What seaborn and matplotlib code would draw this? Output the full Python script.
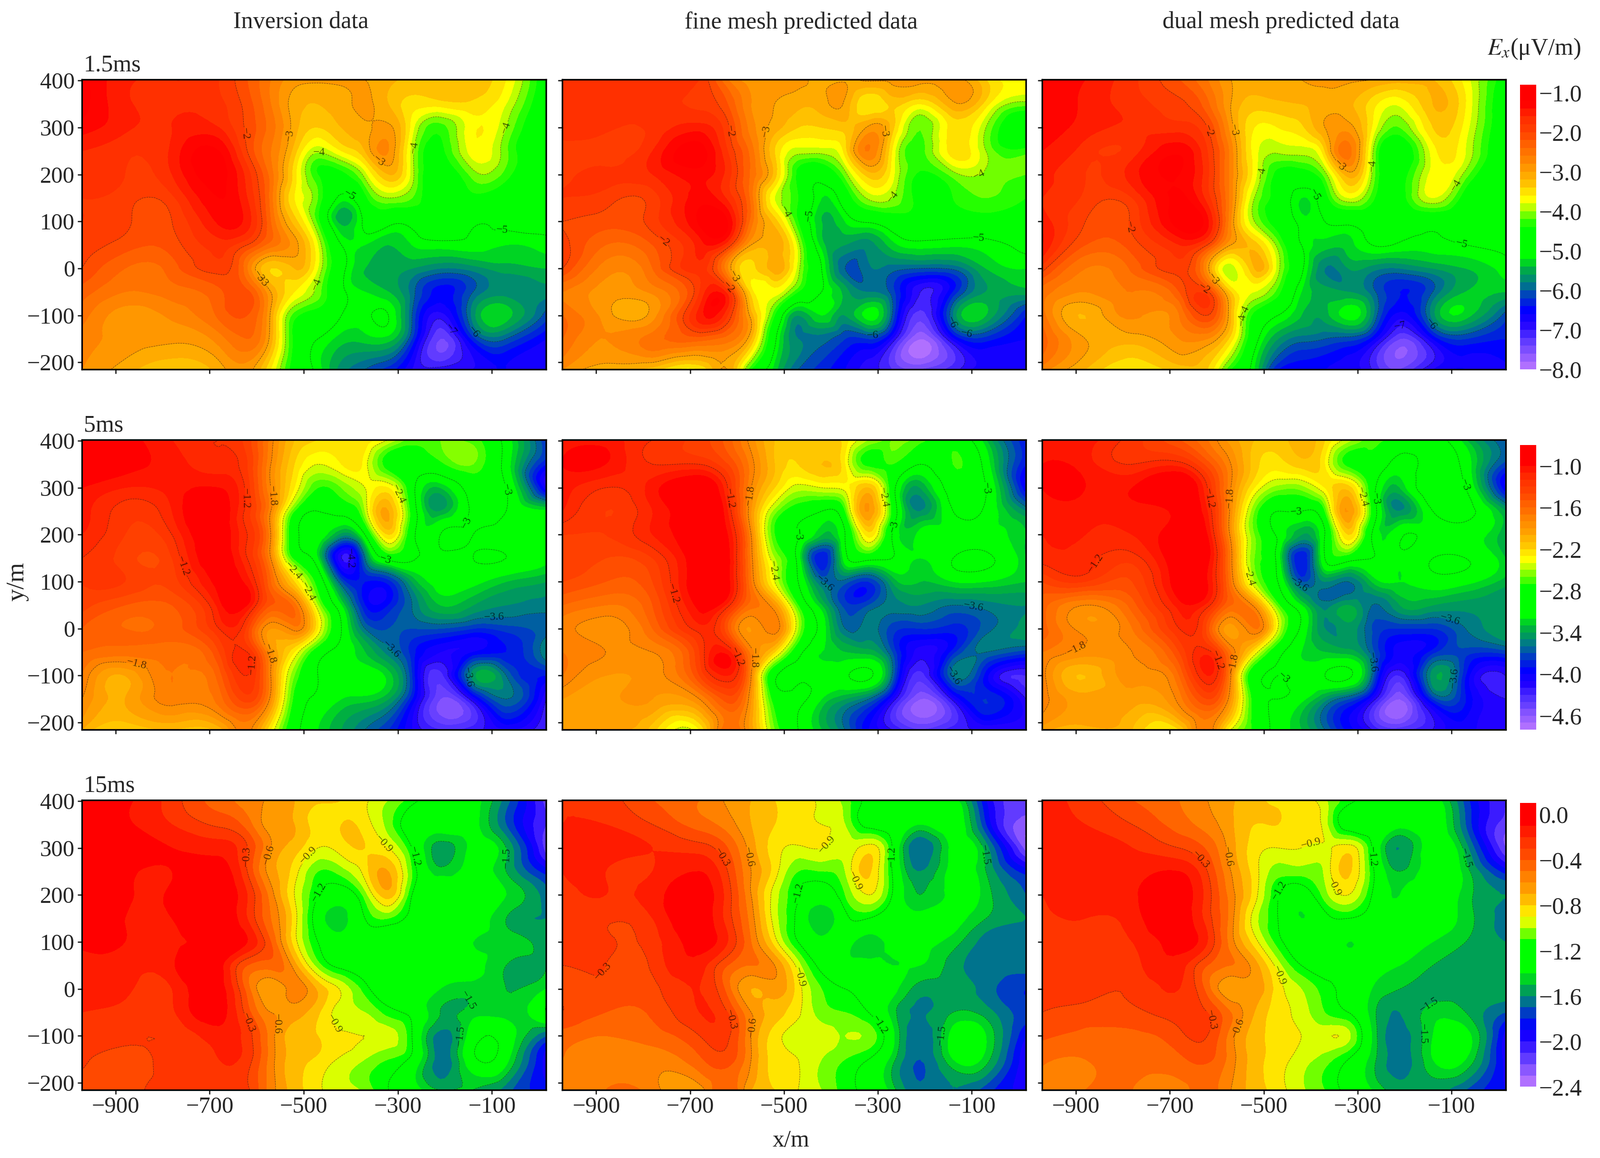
"""Campos Ex: inversion, malla fina y malla dual para tres tiempos."""

import matplotlib
matplotlib.use("Agg")
import matplotlib.pyplot as plt
import matplotlib.tri as mtri
import numpy as np
import seaborn as sns
from matplotlib.colors import ListedColormap

x_nodes = [-972, -880, -780, -680, -620, -570, -520, -470, -420, -370, -320, -270, -210, -140, -70, 15]
y_nodes = [402, 350, 300, 250, 200, 150, 100, 50, 0, -50, -100, -150, -215]

col_titles = ["Inversion data", "fine mesh predicted data", "dual mesh predicted data"]
row_titles = ["1.5ms", "5ms", "15ms"]
x_ticks = [-900, -700, -500, -300, -100]
y_ticks = [400, 300, 200, 100, 0, -100, -200]

levels_1 = [-8.0 + 0.2 * i for i in range(37)]
levels_2 = [-4.8 + 0.1 * i for i in range(42)]
levels_3 = [-2.4 + 0.1 * i for i in range(26)]
lines_1 = [-7, -6, -5, -4, -3, -2]
lines_2 = [-4.2, -3.6, -3, -2.4, -1.8, -1.2]
lines_3 = [-1.5, -1.2, -0.9, -0.6, -0.3]
cbar_ticks_1 = [-1.0, -2.0, -3.0, -4.0, -5.0, -6.0, -7.0, -8.0]
cbar_ticks_2 = [-1.0, -1.6, -2.2, -2.8, -3.4, -4.0, -4.6]
cbar_ticks_3 = [0.0, -0.4, -0.8, -1.2, -1.6, -2.0, -2.4]

anchors = ["#ff0000", "#ff0000", "#ff2a00", "#ff4000", "#ff6000", "#ff8000", "#ffa000", "#ffc800",
           "#ffff00", "#88ff00", "#00ff00", "#00ff00", "#00ff00", "#00b040", "#008080", "#0040c0",
           "#0000ff", "#2000ff", "#5030ff", "#8050ff", "#b070ff"]

a1 = [
    [-1.1, -1.55, -1.6, -1.8, -2.2, -2.6, -2.9, -2.95, -2.95, -3.0, -3.15, -3.25, -3.3, -3.3, -3.6, -4.7],
    [-1.1, -1.55, -1.65, -1.75, -2.1, -2.6, -3.1, -3.2, -3.1, -2.95, -3.2, -3.5, -3.5, -3.45, -3.8, -4.8],
    [-1.3, -1.55, -1.6, -1.6, -2.05, -2.5, -3.1, -3.4, -3.2, -3.05, -2.95, -3.7, -4.3, -3.65, -4.0, -4.9],
    [-1.6, -1.75, -1.55, -1.2, -2.0, -2.6, -3.3, -3.95, -3.6, -3.2, -2.8, -3.9, -4.5, -3.7, -4.15, -4.8],
    [-1.75, -1.8, -1.6, -1.1, -1.7, -2.5, -3.5, -4.4, -4.5, -3.9, -3.2, -3.9, -4.7, -4.1, -4.3, -4.7],
    [-1.8, -1.9, -1.85, -1.2, -1.6, -2.5, -3.6, -4.2, -5.1, -4.5, -4.0, -4.2, -4.7, -4.5, -4.7, -4.8],
    [-1.8, -1.95, -2.0, -1.35, -1.5, -2.4, -3.3, -4.3, -5.5, -4.9, -4.85, -4.85, -4.7, -4.95, -4.9, -4.9],
    [-1.9, -2.1, -2.1, -1.7, -2.0, -2.5, -2.9, -3.8, -5.0, -5.2, -5.4, -5.2, -5.1, -5.1, -5.2, -5.1],
    [-2.0, -2.4, -2.3, -1.9, -2.6, -3.4, -3.2, -3.8, -4.85, -5.4, -5.5, -5.6, -5.8, -5.7, -5.5, -5.4],
    [-2.3, -2.6, -2.5, -2.25, -2.15, -3.0, -3.6, -4.1, -4.9, -5.2, -5.4, -5.9, -6.5, -6.0, -5.7, -5.7],
    [-2.5, -2.9, -2.75, -2.35, -2.2, -3.05, -4.3, -4.6, -5.0, -5.1, -5.0, -6.0, -6.9, -5.7, -5.3, -6.1],
    [-2.7, -2.9, -2.95, -2.7, -2.4, -3.1, -4.5, -5.0, -5.3, -5.3, -5.3, -6.2, -7.4, -6.3, -6.0, -6.6],
    [-2.8, -3.1, -3.4, -3.1, -2.9, -3.6, -4.6, -5.1, -5.7, -6.0, -6.3, -6.8, -6.9, -6.8, -6.6, -6.7],
]
b1 = [
    [-1.7, -1.7, -1.75, -1.8, -2.6, -2.9, -2.9, -2.9, -3.1, -3.05, -2.95, -2.95, -2.9, -2.95, -3.4, -3.7],
    [-1.7, -1.75, -1.75, -1.85, -2.2, -2.8, -3.0, -3.15, -3.1, -3.05, -3.6, -3.35, -3.6, -3.05, -3.5, -4.1],
    [-1.7, -1.75, -1.75, -1.5, -1.95, -2.7, -3.1, -3.4, -3.4, -3.3, -2.95, -3.3, -4.2, -3.5, -4.0, -4.9],
    [-1.9, -1.9, -1.6, -1.1, -1.8, -2.5, -3.4, -3.9, -3.9, -3.5, -2.6, -3.6, -4.3, -3.5, -4.0, -4.3],
    [-1.9, -1.75, -1.6, -1.3, -1.7, -2.45, -3.3, -4.5, -4.8, -4.1, -3.3, -3.7, -4.45, -4.1, -4.05, -4.2],
    [-1.8, -1.9, -1.9, -1.3, -1.65, -2.5, -3.8, -4.4, -5.2, -4.7, -3.95, -4.0, -4.5, -4.4, -4.2, -4.4],
    [-2.0, -2.1, -1.9, -1.15, -1.2, -2.5, -3.3, -4.4, -5.4, -5.2, -4.95, -4.7, -4.6, -4.65, -4.6, -4.7],
    [-1.9, -2.4, -2.2, -1.5, -1.8, -3.0, -3.1, -3.9, -5.3, -5.6, -5.7, -5.3, -5.1, -5.15, -5.1, -4.9],
    [-2.0, -2.7, -2.4, -1.7, -2.8, -3.5, -3.1, -3.9, -5.0, -6.0, -5.85, -5.9, -6.0, -5.95, -5.4, -5.2],
    [-2.6, -2.9, -2.75, -1.8, -1.7, -3.5, -3.7, -4.4, -5.0, -5.5, -5.8, -6.1, -7.0, -6.4, -5.6, -5.5],
    [-2.4, -2.9, -2.9, -1.5, -1.8, -3.1, -4.4, -5.6, -5.2, -5.6, -5.1, -6.0, -7.3, -5.8, -5.4, -6.4],
    [-2.4, -2.8, -2.5, -2.3, -2.5, -3.2, -4.9, -5.8, -5.9, -6.2, -6.2, -6.8, -7.8, -6.7, -6.3, -6.6],
    [-2.8, -3.1, -3.3, -3.6, -3.0, -4.4, -5.3, -6.0, -6.3, -6.6, -6.9, -7.2, -7.4, -7.1, -6.7, -6.6],
]
c1 = [
    [-1.2, -1.4, -1.75, -2.2, -2.6, -3.0, -3.1, -3.1, -3.0, -2.9, -2.95, -3.0, -3.1, -3.2, -3.7, -4.6],
    [-1.2, -1.45, -1.7, -1.95, -2.35, -3.0, -3.3, -3.25, -3.2, -3.1, -3.15, -3.5, -3.75, -3.2, -3.6, -4.8],
    [-1.25, -1.5, -1.65, -1.7, -2.0, -2.9, -3.6, -3.6, -3.45, -3.0, -2.9, -3.6, -4.2, -3.4, -3.7, -4.8],
    [-1.4, -1.7, -1.7, -1.25, -1.8, -2.7, -3.7, -3.95, -3.9, -3.4, -2.5, -3.9, -4.8, -3.7, -3.8, -4.9],
    [-1.5, -1.8, -1.5, -1.2, -1.75, -2.7, -3.7, -4.5, -4.6, -4.1, -3.1, -4.0, -4.6, -3.7, -4.1, -4.9],
    [-1.6, -1.85, -1.8, -1.15, -1.7, -2.7, -4.0, -4.6, -5.2, -4.6, -3.8, -4.3, -4.6, -3.8, -4.6, -4.9],
    [-1.5, -2.0, -1.95, -1.05, -1.35, -2.8, -4.0, -4.6, -5.1, -5.0, -4.9, -4.8, -4.85, -4.8, -4.85, -4.9],
    [-1.4, -2.2, -2.1, -1.6, -2.0, -3.0, -3.3, -4.1, -5.0, -5.3, -5.3, -5.0, -5.05, -5.1, -5.0, -4.95],
    [-1.9, -2.6, -2.35, -1.9, -2.9, -3.9, -3.2, -3.9, -4.9, -5.8, -5.6, -5.7, -5.8, -5.6, -5.4, -5.1],
    [-2.5, -2.8, -2.6, -2.2, -1.95, -3.4, -3.8, -4.3, -5.2, -5.5, -5.6, -5.9, -6.4, -6.0, -5.4, -5.4],
    [-2.5, -3.2, -2.75, -2.6, -2.0, -3.2, -4.5, -5.0, -5.4, -5.5, -5.1, -5.7, -6.7, -5.7, -5.3, -6.1],
    [-2.3, -3.0, -3.1, -2.8, -2.8, -3.5, -4.8, -5.6, -5.9, -6.0, -6.1, -6.5, -7.4, -6.6, -6.2, -6.4],
    [-2.7, -3.2, -3.6, -3.3, -3.4, -4.4, -5.2, -6.4, -6.5, -6.6, -6.7, -7.0, -7.4, -6.8, -6.6, -6.6],
]
a2 = [
    [-0.85, -0.95, -1.1, -1.2, -1.35, -1.75, -2.1, -2.2, -2.3, -2.25, -2.4, -2.65, -2.6, -2.65, -3.1, -3.8],
    [-0.85, -0.95, -1.05, -1.15, -1.3, -1.8, -2.2, -2.4, -2.3, -2.35, -2.8, -2.9, -2.75, -2.6, -3.1, -3.9],
    [-1.0, -1.1, -1.05, -1.0, -1.25, -1.8, -2.3, -2.7, -2.6, -2.4, -2.3, -2.9, -3.3, -2.85, -3.0, -4.1],
    [-1.05, -1.25, -1.1, -0.9, -1.25, -1.8, -2.7, -3.0, -2.9, -2.5, -2.0, -2.8, -3.4, -2.95, -3.0, -3.15],
    [-1.1, -1.3, -1.2, -0.9, -1.2, -1.8, -2.9, -3.1, -3.45, -3.0, -2.2, -2.9, -3.0, -3.0, -3.1, -3.1],
    [-1.2, -1.35, -1.3, -0.9, -1.2, -1.8, -2.75, -3.2, -4.2, -3.6, -2.9, -2.95, -3.1, -3.0, -3.0, -3.15],
    [-1.3, -1.3, -1.35, -0.95, -1.05, -1.6, -2.2, -2.8, -3.7, -3.9, -3.85, -3.4, -3.15, -3.15, -3.3, -3.4],
    [-1.35, -1.5, -1.5, -1.05, -1.0, -1.5, -1.65, -2.5, -3.2, -3.9, -3.9, -3.6, -3.3, -3.4, -3.5, -3.55],
    [-1.5, -1.6, -1.55, -1.2, -1.35, -1.9, -1.75, -2.3, -3.0, -3.6, -3.7, -3.7, -3.7, -3.8, -3.75, -3.65],
    [-1.6, -1.65, -1.65, -1.4, -1.2, -1.85, -2.3, -2.85, -3.1, -3.3, -3.55, -3.85, -4.1, -4.0, -3.9, -3.5],
    [-1.7, -2.0, -1.7, -1.55, -1.2, -1.8, -2.6, -3.0, -3.1, -3.1, -3.25, -3.8, -4.35, -3.45, -3.6, -3.9],
    [-1.8, -2.0, -1.75, -1.65, -1.35, -1.85, -2.75, -3.05, -3.2, -3.25, -3.4, -3.9, -4.5, -4.1, -3.6, -4.2],
    [-2.0, -2.2, -2.1, -2.05, -1.75, -2.3, -2.9, -3.2, -3.4, -3.6, -3.8, -4.1, -4.3, -4.25, -4.1, -4.3],
]
b2 = [
    [-1.05, -1.05, -1.2, -1.35, -1.55, -1.85, -2.1, -2.1, -2.15, -2.25, -2.5, -2.6, -2.65, -2.8, -3.3, -3.9],
    [-1.0, -1.0, -1.2, -1.2, -1.4, -1.75, -2.1, -2.2, -2.1, -2.3, -2.75, -2.7, -3.0, -2.7, -3.1, -3.9],
    [-1.05, -1.2, -1.05, -0.85, -1.2, -1.8, -2.2, -2.45, -2.4, -2.35, -2.1, -2.85, -3.4, -2.85, -3.0, -4.0],
    [-1.1, -1.3, -1.1, -0.85, -1.1, -1.9, -2.55, -2.85, -3.0, -2.7, -1.9, -2.75, -3.5, -3.0, -3.05, -3.5],
    [-1.3, -1.3, -1.1, -0.85, -1.0, -1.8, -2.7, -3.0, -3.3, -3.0, -2.25, -3.0, -3.15, -3.15, -3.15, -3.3],
    [-1.3, -1.4, -1.3, -0.85, -0.95, -1.75, -2.5, -3.1, -3.9, -3.1, -2.9, -3.0, -3.2, -3.0, -2.95, -3.3],
    [-1.4, -1.5, -1.4, -0.85, -0.95, -1.7, -2.4, -3.0, -3.6, -3.65, -3.8, -3.4, -3.3, -3.2, -3.2, -3.3],
    [-1.6, -1.7, -1.5, -0.95, -1.15, -1.65, -1.9, -2.7, -3.3, -3.75, -3.7, -3.55, -3.5, -3.6, -3.55, -3.5],
    [-1.75, -1.85, -1.6, -1.15, -1.5, -1.9, -1.75, -2.5, -3.1, -3.6, -3.55, -3.75, -3.8, -3.85, -3.65, -3.45],
    [-1.7, -1.8, -1.8, -1.3, -1.05, -1.75, -2.2, -2.9, -3.2, -3.3, -3.35, -3.7, -4.15, -3.85, -3.6, -3.75],
    [-1.7, -1.9, -1.85, -1.4, -1.1, -1.8, -2.95, -3.05, -3.1, -3.05, -2.95, -3.6, -4.35, -3.6, -3.95, -4.3],
    [-1.9, -1.95, -1.9, -1.8, -1.45, -1.9, -2.8, -2.95, -3.2, -3.4, -3.6, -4.1, -4.6, -4.15, -3.8, -4.2],
    [-1.9, -2.0, -2.15, -2.3, -1.6, -1.95, -2.6, -3.0, -3.3, -3.6, -4.0, -4.2, -4.4, -4.25, -4.2, -4.2],
]
c2 = [
    [-1.0, -1.05, -1.25, -1.5, -1.7, -1.95, -2.1, -2.15, -2.05, -2.2, -2.45, -2.65, -2.8, -2.9, -3.3, -3.7],
    [-1.0, -1.05, -1.2, -1.15, -1.45, -1.8, -2.15, -2.25, -2.15, -2.3, -2.75, -2.8, -3.1, -2.85, -3.1, -3.75],
    [-1.0, -1.0, -1.0, -0.85, -1.2, -1.8, -2.3, -2.55, -2.55, -2.3, -2.15, -2.85, -3.3, -2.75, -3.0, -4.0],
    [-1.05, -1.05, -1.05, -0.95, -1.1, -1.85, -2.6, -3.0, -3.0, -2.7, -1.9, -2.75, -3.5, -3.0, -2.9, -3.4],
    [-1.1, -1.1, -1.1, -0.85, -1.0, -1.85, -2.6, -3.05, -3.4, -3.0, -2.2, -3.0, -3.05, -3.15, -3.15, -3.4],
    [-1.15, -1.15, -1.25, -0.85, -0.95, -1.75, -2.6, -3.1, -3.9, -3.0, -2.85, -3.0, -3.1, -3.0, -3.0, -3.3],
    [-1.4, -1.3, -1.4, -0.9, -1.0, -1.7, -2.5, -3.0, -3.7, -3.5, -3.6, -3.3, -3.2, -3.1, -3.15, -3.35],
    [-1.55, -1.8, -1.55, -1.05, -1.15, -1.6, -1.85, -2.65, -3.2, -3.55, -3.4, -3.6, -3.4, -3.4, -3.45, -3.5],
    [-1.55, -1.85, -1.7, -1.2, -1.45, -1.95, -1.7, -2.4, -3.05, -3.5, -3.45, -3.7, -3.8, -3.8, -3.6, -3.4],
    [-1.7, -1.85, -1.8, -1.4, -1.15, -1.7, -2.3, -2.9, -3.2, -3.3, -3.35, -3.65, -4.05, -3.85, -3.75, -3.75],
    [-1.75, -2.1, -1.85, -1.6, -1.1, -1.8, -2.9, -3.0, -3.1, -3.0, -2.95, -3.6, -4.3, -3.45, -3.9, -4.2],
    [-1.75, -1.95, -1.95, -1.75, -1.4, -1.9, -2.8, -3.0, -3.15, -3.45, -3.7, -4.1, -4.6, -3.8, -3.9, -4.2],
    [-1.95, -2.05, -2.1, -2.2, -1.7, -2.4, -2.75, -3.1, -3.3, -3.6, -3.95, -4.2, -4.35, -4.2, -4.05, -4.2],
]
a3 = [
    [-0.05, -0.08, -0.25, -0.45, -0.55, -0.62, -0.7, -0.78, -0.8, -0.88, -1.0, -1.15, -1.3, -1.35, -1.65, -2.15],
    [-0.03, -0.08, -0.2, -0.32, -0.45, -0.65, -0.7, -0.85, -0.8, -0.85, -1.05, -1.3, -1.3, -1.35, -1.7, -2.1],
    [-0.03, -0.05, -0.1, -0.14, -0.3, -0.6, -0.75, -0.9, -0.85, -0.8, -0.9, -1.2, -1.55, -1.35, -1.5, -2.15],
    [-0.05, -0.08, -0.1, -0.05, -0.3, -0.65, -0.85, -1.1, -1.05, -0.85, -0.7, -1.1, -1.45, -1.35, -1.5, -1.85],
    [-0.06, -0.09, -0.09, -0.02, -0.2, -0.55, -0.9, -1.2, -1.3, -1.05, -0.75, -1.2, -1.35, -1.35, -1.4, -1.65],
    [-0.08, -0.1, -0.1, -0.02, -0.2, -0.5, -0.85, -1.3, -1.45, -1.2, -1.1, -1.25, -1.3, -1.3, -1.5, -1.6],
    [-0.09, -0.1, -0.13, -0.02, -0.1, -0.4, -0.85, -1.2, -1.35, -1.3, -1.3, -1.3, -1.3, -1.4, -1.45, -1.55],
    [-0.12, -0.15, -0.12, -0.05, -0.4, -0.45, -0.65, -1.05, -1.25, -1.3, -1.35, -1.35, -1.35, -1.35, -1.5, -1.5],
    [-0.15, -0.17, -0.2, -0.05, -0.45, -0.68, -0.55, -0.72, -0.92, -1.15, -1.28, -1.3, -1.4, -1.45, -1.5, -1.4],
    [-0.2, -0.25, -0.22, -0.05, -0.35, -0.6, -0.65, -0.78, -0.95, -1.0, -1.15, -1.25, -1.5, -1.45, -1.45, -1.2],
    [-0.27, -0.28, -0.28, -0.15, -0.25, -0.55, -0.75, -0.8, -0.88, -0.9, -0.95, -1.2, -1.65, -1.3, -1.3, -1.7],
    [-0.28, -0.33, -0.27, -0.2, -0.25, -0.55, -0.75, -0.82, -0.92, -1.0, -1.1, -1.25, -1.65, -1.25, -1.35, -1.95],
    [-0.35, -0.33, -0.28, -0.27, -0.28, -0.55, -0.75, -0.88, -0.95, -1.03, -1.2, -1.3, -1.5, -1.5, -1.65, -1.85],
]
b3 = [
    [-0.2, -0.25, -0.4, -0.5, -0.62, -0.7, -0.8, -0.85, -0.92, -1.05, -1.25, -1.3, -1.3, -1.35, -1.9, -2.15],
    [-0.2, -0.2, -0.3, -0.45, -0.55, -0.7, -0.8, -0.85, -0.9, -1.0, -1.25, -1.25, -1.4, -1.3, -1.8, -2.25],
    [-0.2, -0.15, -0.2, -0.25, -0.4, -0.65, -0.85, -0.92, -0.9, -0.95, -0.85, -1.2, -1.7, -1.35, -1.55, -2.25],
    [-0.2, -0.2, -0.2, -0.1, -0.3, -0.6, -0.85, -1.1, -1.1, -1.0, -0.78, -1.2, -1.6, -1.35, -1.5, -1.85],
    [-0.25, -0.2, -0.15, -0.03, -0.25, -0.6, -0.95, -1.2, -1.3, -1.1, -0.9, -1.2, -1.5, -1.35, -1.45, -1.7],
    [-0.3, -0.28, -0.2, -0.03, -0.25, -0.55, -0.95, -1.25, -1.5, -1.25, -1.2, -1.3, -1.35, -1.35, -1.5, -1.6],
    [-0.25, -0.28, -0.25, -0.05, -0.2, -0.5, -0.85, -1.2, -1.35, -1.35, -1.45, -1.35, -1.35, -1.45, -1.65, -1.65],
    [-0.3, -0.3, -0.28, -0.15, -0.4, -0.5, -0.6, -0.95, -1.25, -1.35, -1.35, -1.4, -1.4, -1.55, -1.65, -1.65],
    [-0.35, -0.33, -0.33, -0.2, -0.45, -0.7, -0.65, -0.85, -1.1, -1.2, -1.25, -1.35, -1.55, -1.55, -1.65, -1.8],
    [-0.3, -0.4, -0.38, -0.2, -0.3, -0.6, -0.75, -0.88, -1.05, -1.1, -1.2, -1.45, -1.62, -1.5, -1.55, -1.75],
    [-0.45, -0.5, -0.45, -0.3, -0.28, -0.6, -0.85, -0.95, -0.95, -1.0, -1.03, -1.35, -1.68, -1.35, -1.4, -1.9],
    [-0.5, -0.55, -0.55, -0.42, -0.35, -0.6, -0.85, -0.9, -1.0, -1.1, -1.2, -1.45, -1.7, -1.4, -1.45, -2.0],
    [-0.5, -0.5, -0.55, -0.65, -0.4, -0.7, -0.8, -0.9, -1.0, -1.15, -1.25, -1.45, -1.68, -1.6, -1.75, -1.95],
]
c3 = [
    [-0.15, -0.25, -0.4, -0.5, -0.6, -0.68, -0.78, -0.82, -0.85, -0.98, -1.15, -1.25, -1.3, -1.35, -1.75, -2.1],
    [-0.15, -0.2, -0.3, -0.45, -0.55, -0.68, -0.8, -0.8, -0.85, -0.95, -1.3, -1.25, -1.35, -1.3, -1.7, -2.15],
    [-0.15, -0.15, -0.2, -0.3, -0.42, -0.65, -0.85, -0.9, -0.9, -0.92, -0.85, -1.2, -1.6, -1.3, -1.55, -2.2],
    [-0.15, -0.15, -0.15, -0.1, -0.3, -0.6, -0.85, -1.05, -1.05, -0.98, -0.78, -1.15, -1.5, -1.3, -1.45, -1.85],
    [-0.2, -0.15, -0.12, -0.03, -0.25, -0.55, -0.85, -1.2, -1.3, -1.05, -0.9, -1.2, -1.4, -1.3, -1.45, -1.6],
    [-0.22, -0.2, -0.15, -0.03, -0.25, -0.55, -0.95, -1.2, -1.4, -1.25, -1.2, -1.25, -1.3, -1.3, -1.45, -1.65],
    [-0.25, -0.22, -0.2, -0.05, -0.2, -0.55, -0.85, -1.15, -1.3, -1.3, -1.4, -1.3, -1.3, -1.4, -1.5, -1.6],
    [-0.25, -0.25, -0.25, -0.15, -0.4, -0.5, -0.65, -0.95, -1.2, -1.3, -1.3, -1.35, -1.4, -1.5, -1.55, -1.55],
    [-0.25, -0.25, -0.28, -0.2, -0.45, -0.68, -0.65, -0.85, -1.0, -1.15, -1.25, -1.4, -1.5, -1.55, -1.55, -1.55],
    [-0.3, -0.35, -0.33, -0.25, -0.3, -0.5, -0.7, -0.85, -0.95, -1.1, -1.2, -1.45, -1.6, -1.45, -1.5, -1.7],
    [-0.38, -0.42, -0.42, -0.33, -0.3, -0.55, -0.75, -0.85, -0.9, -0.93, -0.97, -1.4, -1.65, -1.4, -1.35, -1.95],
    [-0.48, -0.5, -0.45, -0.42, -0.38, -0.55, -0.75, -0.85, -0.95, -1.05, -1.2, -1.45, -1.65, -1.4, -1.4, -1.95],
    [-0.5, -0.5, -0.5, -0.55, -0.45, -0.6, -0.75, -0.85, -0.98, -1.1, -1.25, -1.4, -1.55, -1.55, -1.7, -1.9],
]

# donde van las etiquetas de las isolineas
spots_a1 = [(-611, 287), (-552, 287), (-467, 243), (-337, 232), (-252, 256), (-72, 300), (-402, 157), (-78, 87),
            (-630, -39), (-593, -17), (-483, -30), (-176, -122), (-128, -126)]
spots_b1 = [(-611, 293), (-546, 293), (-291, 291), (-85, 200), (-274, 157), (-498, 120), (-452, 113), (-748, 70),
            (-85, 70), (-600, -13), (-617, -39), (-313, -128), (-154, -120), (-109, -122)]
spots_c1 = [(-624, 291), (-556, 296), (-335, 222), (-239, 217), (-485, 200), (-400, 152), (-70, 165), (-822, 80),
            (-80, 46), (-600, -17), (-626, -41), (-556, -109), (-524, -100), (-211, -109), (-139, -115)]
spots_a2 = [(-617, 278), (-572, 282), (-291, 289), (-83, 293), (-167, 232), (-391, 150), (-326, 148), (-524, 122),
            (-474, 87), (-846, 106), (-96, 33), (-293, -28), (-617, -76), (-572, -54), (-863, -113), (-161, -106)]
spots_b2 = [(-609, 278), (-563, 282), (-287, 280), (-93, 297), (-246, 211), (-472, 200), (-417, 89), (-515, 124),
            (-789, 61), (-98, 37), (-602, -61), (-557, -63), (-154, -106)]
spots_c2 = [(-611, 278), (-565, 278), (-285, 282), (-87, 300), (-246, 278), (-430, 235), (-102, 24), (-426, 93),
            (-520, 115), (-843, 135), (-604, -69), (-557, -76), (-872, -106), (-439, -87), (-267, -72), (-98, -104)]
spots_a3 = [(-617, 282), (-567, 282), (-478, 273), (-333, 306), (-265, 282), (-91, 282), (-454, 200), (-152, -26),
            (-609, -69), (-543, -76), (-426, -69), (-148, -102)]
spots_b3 = [(-628, 282), (-570, 282), (-407, 306), (-267, 282), (-96, 282), (-348, 230), (-459, 206), (-448, 30),
            (-837, 6), (-159, -100), (-611, -65), (-548, -85), (-283, -67)]
spots_c3 = [(-626, 282), (-570, 282), (-396, 302), (-265, 282), (-91, 273), (-343, 221), (-459, 206), (-450, 35),
            (-163, -9), (-604, -65), (-539, -91), (-143, -96)]

W, H = 1567.5, 1134.8  # referencia de maquetacion


def box(left, right, top, bottom):
    return [left / W, 1 - bottom / H, (right - left) / W, (bottom - top) / H]


def label_fmt(v):
    return f"\u2212{abs(v):g}"


def draw_panel(ax, field, levels, lines, spots, tri):
    levels = np.asarray(levels)
    palette = sns.blend_palette(anchors, n_colors=len(levels) - 1)[::-1]
    refiner = mtri.UniformTriRefiner(tri)
    fine, z_fine = refiner.refine_field(np.asarray(field, dtype=float).ravel(), subdiv=3)
    z_fine = np.clip(z_fine, levels[0] + 1e-3, levels[-1] - 1e-3)
    ax.tricontourf(fine, z_fine, levels=levels, colors=palette)
    cs = ax.tricontour(fine, z_fine, levels=lines, colors="#202020", linewidths=0.35, alpha=0.65)
    ax.clabel(cs, fmt=label_fmt, fontsize=8.5, colors="black", inline=True, inline_spacing=1, manual=spots)
    ax.set_xlim(-972, 15)
    ax.set_ylim(-215, 402)
    ax.set_xticks(x_ticks)
    ax.set_yticks(y_ticks)
    ax.tick_params(length=3.2, width=1.0, direction="out", pad=2)
    for side in ax.spines.values():
        side.set_visible(True)
        side.set_linewidth(1.2)
        side.set_color("black")


def draw_cbar(ax, levels, ticks):
    levels = np.asarray(levels)
    n = len(levels) - 1
    palette = sns.blend_palette(anchors, n_colors=n)
    mids = ((levels[:-1] + levels[1:]) / 2)[::-1].reshape(-1, 1)
    sns.heatmap(mids, ax=ax, cmap=ListedColormap(palette[::-1]), vmin=levels[0], vmax=levels[-1],
                cbar=False, xticklabels=False, yticklabels=False)
    ax.set_yticks([(levels[-1] - t) / (levels[-1] - levels[0]) * n for t in ticks])
    ax.set_yticklabels([f"\u2212{abs(t):.1f}" if t < 0 else f"{t:.1f}" for t in ticks], rotation=0)
    ax.yaxis.tick_right()
    ax.tick_params(axis="y", length=0, pad=2, labelsize=18)
    ax.tick_params(axis="x", length=0)


sns.set_theme(style="ticks")
plt.rcParams["font.family"] = ["Liberation Serif", "DejaVu Serif"]
plt.rcParams["mathtext.fontset"] = "stix"
plt.rcParams["axes.unicode_minus"] = True

fig = plt.figure(figsize=(16.805, 12.165), dpi=200)

X, Y = np.meshgrid(x_nodes, y_nodes)
grid = mtri.Triangulation(X.ravel().astype(float), Y.ravel().astype(float))

fields = [[a1, b1, c1], [a2, b2, c2], [a3, b3, c3]]
spots = [[spots_a1, spots_b1, spots_c1], [spots_a2, spots_b2, spots_c2], [spots_a3, spots_b3, spots_c3]]
row_levels = [levels_1, levels_2, levels_3]
row_lines = [lines_1, lines_2, lines_3]
row_ticks = [cbar_ticks_1, cbar_ticks_2, cbar_ticks_3]

col_box = [(80, 535), (551, 1005), (1021, 1475)]
row_box = [(78, 362), (431, 715), (784, 1068)]
bar_box = [(83, 362), (436, 715), (787, 1065)]

for r, (top, bottom) in enumerate(row_box):
    for c, (left, right) in enumerate(col_box):
        ax = fig.add_axes(box(left, right, top, bottom))
        draw_panel(ax, fields[r][c], row_levels[r], row_lines[r], spots[r][c], grid)
        ax.tick_params(labelsize=17.5)
        if c > 0:
            ax.set_yticklabels([])
        else:
            ax.set_yticklabels([f"\u2212{abs(t)}" if t < 0 else str(t) for t in y_ticks])
        if r < 2:
            ax.set_xticklabels([])
        else:
            ax.set_xticklabels([f"\u2212{abs(t)}" for t in x_ticks])
    cax = fig.add_axes(box(1489, 1505, bar_box[r][0], bar_box[r][1]))
    draw_cbar(cax, row_levels[r], row_ticks[r])
    fig.text(82 / W, 1 - (top - 3) / H, row_titles[r], fontsize=18, ha="left", va="bottom")

for title, x_pos in zip(col_titles, [295, 785, 1255]):
    fig.text(x_pos / W, 1 - 22 / H, title, fontsize=18, ha="center", va="center")

fig.text(17 / W, 1 - 570 / H, "y/m", fontsize=19, rotation=90, ha="center", va="center")
fig.text(775 / W, 1 - 1118 / H, "x/m", fontsize=18, ha="center", va="center")
fig.text(1503 / W, 1 - 48 / H, "$E_x$(\u03bcV/m)", fontsize=18, ha="center", va="center")

fig.savefig("out.png", dpi=200)
plt.close(fig)
